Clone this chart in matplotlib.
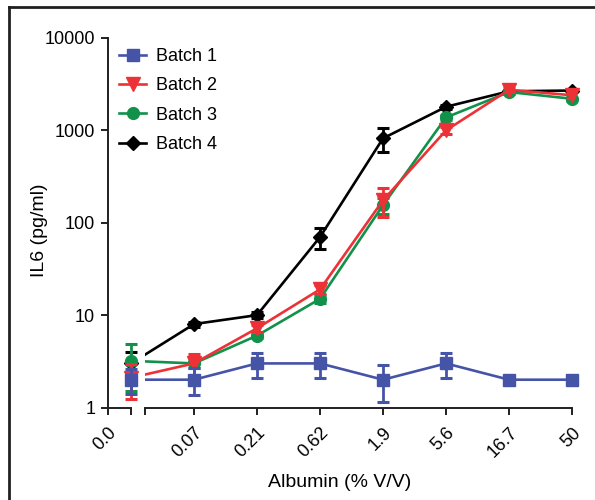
import numpy as np
import matplotlib
matplotlib.use('Agg')
import matplotlib.pyplot as plt
from matplotlib.lines import Line2D
from matplotlib.patches import Rectangle

plt.rcParams['font.family'] = ['Liberation Sans', 'DejaVu Sans']

# Albumin concentrations (% V/V), plotted as evenly spaced categories
conc_labels = ['0.0', '0.07', '0.21', '0.62', '1.9', '5.6', '16.7', '50']

# IL6 (pg/ml) mean and error for each batch
batch1 = [2.0, 2.0, 3.0, 3.0, 2.0, 3.0, 2.0, 2.0]
batch1_err = [0.6, 0.65, 0.9, 0.9, 0.85, 0.9, 0.0, 0.0]
batch2 = [2.1, 3.0, 7.2, 19, 175, 1000, 2750, 2400]
batch2_err = [0.85, 0.8, 0.6, 2.0, 60, 80, 150, 150]
batch3 = [3.2, 3.0, 6.0, 15, 155, 1380, 2600, 2200]
batch3_err = [1.7, 0.3, 0.4, 1.5, 30, 100, 100, 100]
batch4 = [3.0, 8.0, 10.0, 70, 820, 1800, 2650, 2700]
batch4_err = [0.95, 0.5, 0.7, 18, 240, 100, 100, 100]

series_names = ['Batch 1', 'Batch 2', 'Batch 3', 'Batch 4']
series_vals = [batch1, batch2, batch3, batch4]
series_errs = [batch1_err, batch2_err, batch3_err, batch4_err]
colors = ['#4654a8', '#ec3237', '#12914a', '#000000']
markers = ['s', 'v', 'o', 'D']
msizes = [8.5, 9.5, 8.5, 7.5]
zorders = [8, 7, 6, 5]

axis_col = '#231f20'
x_left = -0.37      # where the y axis sits
break_start = 0.22  # main x segment starts after the break

fig = plt.figure(figsize=(5.95, 5.0), dpi=100)
ax = fig.add_axes([107.7 / 595, 1 - 407.5 / 500, (572 - 107.7) / 595, (407.5 - 38) / 500])

x = np.arange(len(conc_labels))
clip_rect = Rectangle((break_start, -1), 20, 3, transform=ax.get_xaxis_transform())

for name, vals, errs, c, m, ms, z in zip(series_names, series_vals, series_errs,
                                          colors, markers, msizes, zorders):
    line, = ax.plot(x, vals, '-', color=c, lw=1.9, zorder=z)
    line.set_clip_path(clip_rect)
    ax.errorbar(x, vals, yerr=errs, fmt='none', ecolor=c, elinewidth=2.0,
                capsize=4.5, capthick=2.2, zorder=z)
    ax.plot(x, vals, linestyle='none', marker=m, ms=ms, color=c, mec=c,
            zorder=z + 0.5, clip_on=False)

ax.set_yscale('log')
ax.set_ylim(1, 10000)
ax.set_xlim(x_left, 7)
ax.set_yticks([1, 10, 100, 1000, 10000])
ax.set_yticklabels(['1', '10', '100', '1000', '10000'])
ax.yaxis.set_minor_locator(matplotlib.ticker.NullLocator())

ax.set_xticks([x_left, 0, break_start] + list(range(1, 8)))
ax.set_xticklabels([conc_labels[0], '', ''] + conc_labels[1:], rotation=45,
                   ha='right', va='top', rotation_mode='anchor')

for s in ['top', 'right', 'bottom']:
    ax.spines[s].set_visible(False)
ax.spines['left'].set_color(axis_col)
ax.spines['left'].set_linewidth(1.4)
ax.tick_params(axis='both', which='major', direction='out', length=5,
               width=1.4, color=axis_col, labelsize=13, pad=4)
ax.tick_params(axis='x', pad=7)

# broken x axis: short segment at 0.0, then the main segment
xt = ax.get_xaxis_transform()
ax.plot([x_left, 0], [0, 0], color=axis_col, lw=1.4, transform=xt, clip_on=False)
ax.plot([break_start, 7], [0, 0], color=axis_col, lw=1.4, transform=xt, clip_on=False)

ax.set_xlabel('Albumin (% V/V)', fontsize=14, labelpad=9)
ax.set_ylabel('IL6 (pg/ml)', fontsize=14)
ax.yaxis.set_label_coords(-0.129, 0.48)

handles = [Line2D([], [], color=c, lw=1.9, marker=m, ms=ms)
           for c, m, ms in zip(colors, markers, msizes)]
fig.legend(handles, series_names, loc='upper left', frameon=False,
           bbox_to_anchor=(119 / 595, 1 - 48 / 500), fontsize=13,
           handlelength=1.5, handletextpad=0.55, labelspacing=0.68,
           borderpad=0, borderaxespad=0)

# figure frame (top and left edges)
fig.add_artist(Line2D([8.5 / 595, 8.5 / 595], [0, 1 - 7 / 500], color=axis_col, lw=2))
fig.add_artist(Line2D([8.5 / 595, 1], [1 - 7 / 500, 1 - 7 / 500], color=axis_col, lw=2))

fig.savefig('out.png', dpi=100, facecolor='white')
